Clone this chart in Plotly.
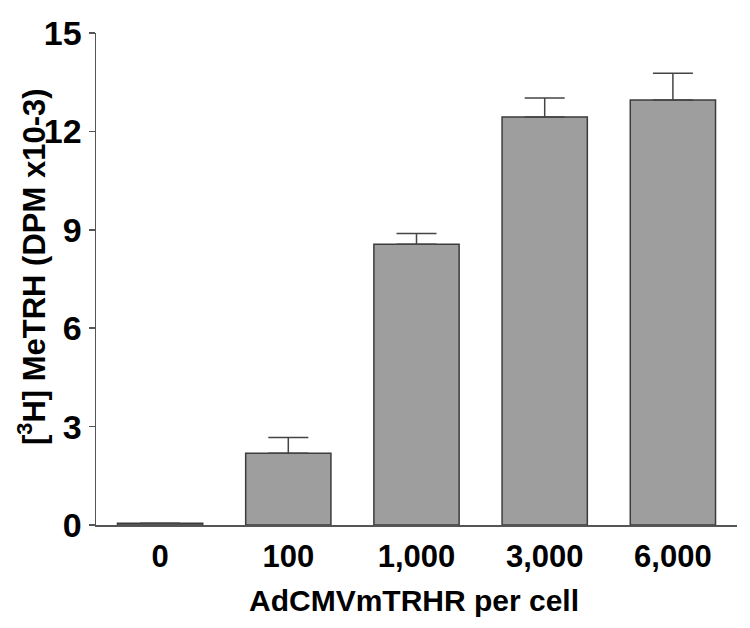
import plotly.graph_objects as go

categories = ["0", "100", "1,000", "3,000", "6,000"]
values = [0.05, 2.19, 8.56, 12.44, 12.96]
errors = [0.0, 0.48, 0.33, 0.58, 0.81]
y_ticks = [0, 3, 6, 9, 12, 15]

FONT = "Liberation Sans, Arial, sans-serif"

L, R, T, B = 96, 13, 33, 103
W, H = 750, 628
pw, ph = W - L - R, H - T - B

fig = go.Figure()
fig.add_trace(go.Bar(
    x=list(range(len(categories))),
    y=values,
    width=0.665,
    marker=dict(color="#9e9e9e", line=dict(color="#3c3c3c", width=1.5)),
    error_y=dict(type="data", symmetric=False, array=errors,
                 arrayminus=[0] * len(errors),
                 color="#444444", thickness=1.5, width=20),
    showlegend=False,
))

fig.update_layout(
    width=W, height=H,
    margin=dict(l=L, r=R, t=T, b=B, autoexpand=False),
    paper_bgcolor="white", plot_bgcolor="white",
    font=dict(family=FONT, color="black"),
    xaxis=dict(
        range=[-0.5, 4.5], automargin=False,
        tickmode="array", tickvals=list(range(len(categories))), ticktext=categories,
        showline=True, linecolor="#555555", linewidth=1.5,
        showgrid=False, zeroline=False, ticks="",
        ticklabelstandoff=3,
        tickfont=dict(size=31, family=FONT, weight="bold"),
    ),
    yaxis=dict(
        range=[0, 15], automargin=False,
        tickmode="array", tickvals=y_ticks, ticktext=[str(v) for v in y_ticks],
        showline=True, linecolor="#555555", linewidth=1.5,
        showgrid=False, zeroline=False, ticks="outside", ticklen=6, tickcolor="#555555",
        tickwidth=1.5,
        tickfont=dict(size=34, family=FONT, weight="bold"),
    ),
    annotations=[
        dict(text="<b>AdCMVmTRHR per cell</b>", xref="paper", yref="paper",
             x=(414 - L) / pw, y=-(600 - (T + ph)) / ph,
             xanchor="center", yanchor="middle", showarrow=False,
             font=dict(size=30, family=FONT, color="black")),
        dict(text="<b>[<sup>3</sup>H] MeTRH (DPM x10-3)</b>", xref="paper", yref="paper",
             x=(32 - L) / pw, y=(T + ph - 267) / ph, textangle=-90,
             xanchor="center", yanchor="middle", showarrow=False,
             font=dict(size=31, family=FONT, color="black")),
    ],
)

fig.write_html("out.html",
               config={"displayModeBar": False, "staticPlot": True},
               post_script="document.body.style.margin='0px';document.body.style.overflow='hidden';")
